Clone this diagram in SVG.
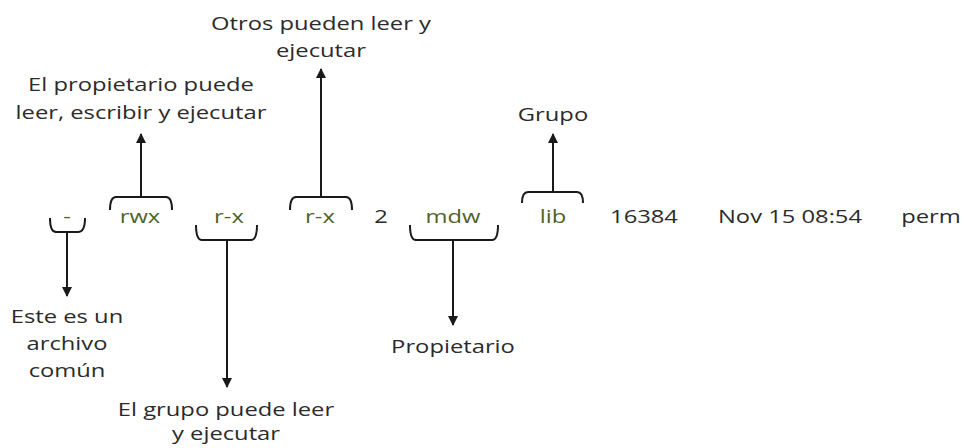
<svg xmlns="http://www.w3.org/2000/svg" width="965" height="448" viewBox="0 0 965 448">
  <style>
    text { font-family: "Open Sans", "Lato", sans-serif; font-size: 19px; fill: #2b2b2b; text-anchor: middle; }
    .perm { fill: #4f6228; }
    .brace { fill: none; stroke: #1a1a1a; stroke-width: 2; stroke-linejoin: round; }
    .arrow { fill: none; stroke: #1a1a1a; stroke-width: 2; marker-end: url(#head); }
  </style>
  <defs>
    <marker id="head" viewBox="0 0 10 10" refX="9" refY="5" markerWidth="5" markerHeight="5" orient="auto" markerUnits="strokeWidth">
      <path d="M0,0 L10,5 L0,10 z" fill="#1a1a1a"/>
    </marker>
  </defs>

  <rect width="965" height="448" fill="#ffffff"/>

  <!-- fields of the listing line; each label is widened 1.25x around its centre -->
  <g id="type" transform="translate(67 0) scale(1.25 1)"><text class="perm" x="0" y="223">-</text></g>
  <g id="owner-perm" transform="translate(140 0) scale(1.25 1)"><text class="perm" x="0" y="223">rwx</text></g>
  <g id="group-perm" transform="translate(229 0) scale(1.25 1)"><text class="perm" x="0" y="223">r-x</text></g>
  <g id="other-perm" transform="translate(320 0) scale(1.25 1)"><text class="perm" x="0" y="223">r-x</text></g>
  <g id="links" transform="translate(381 0) scale(1.25 1)"><text x="0" y="223">2</text></g>
  <g id="owner" transform="translate(453 0) scale(1.25 1)"><text class="perm" x="0" y="223">mdw</text></g>
  <g id="group" transform="translate(553 0) scale(1.25 1)"><text class="perm" x="0" y="223">lib</text></g>
  <g id="size" transform="translate(644 0) scale(1.25 1)"><text x="0" y="223">16384</text></g>
  <g id="date" transform="translate(790 0) scale(1.25 1)"><text x="0" y="223">Nov 15 08:54</text></g>
  <g id="name" transform="translate(931 0) scale(1.25 1)"><text x="0" y="223">perm</text></g>

  <!-- explanations -->
  <g id="note-type" transform="translate(67 0) scale(1.25 1)"><text x="0" y="323">Este es un</text><text x="0" y="350">archivo</text><text x="0" y="377">común</text></g>
  <g id="note-owner-perm" transform="translate(141 0) scale(1.25 1)"><text x="0" y="91">El propietario puede</text><text x="0" y="119">leer, escribir y ejecutar</text></g>
  <g id="note-group-perm" transform="translate(226 0) scale(1.25 1)"><text x="0" y="416">El grupo puede leer</text><text x="0" y="440">y ejecutar</text></g>
  <g id="note-other-perm" transform="translate(321 0) scale(1.25 1)"><text x="0" y="30">Otros pueden leer y</text><text x="0" y="57">ejecutar</text></g>
  <g id="note-owner" transform="translate(453 0) scale(1.25 1)"><text x="0" y="353">Propietario</text></g>
  <g id="note-group" transform="translate(553 0) scale(1.25 1)"><text x="0" y="121">Grupo</text></g>

  <!-- braces and arrows -->
  <g id="connectors">
    <path class="brace" d="M50,218 Q50,232 56,232 L78,232 Q85,232 85,218"/>
    <path class="arrow" d="M67,232 V296"/>

    <path class="brace" d="M110,210 Q110,197 116,197 L166,197 Q172,197 172,210"/>
    <path class="arrow" d="M141,197 V134"/>

    <path class="brace" d="M196,225 Q196,240 202,240 L251,240 Q257,240 257,225"/>
    <path class="arrow" d="M227,240 V387"/>

    <path class="brace" d="M290,210 Q290,197 296,197 L346,197 Q352,197 352,210"/>
    <path class="arrow" d="M321,197 V69"/>

    <path class="brace" d="M410,225 Q410,240 416,240 L492,240 Q498,240 498,225"/>
    <path class="arrow" d="M453,240 V325"/>

    <path class="brace" d="M522,203 Q522,192 528,192 L577,192 Q583,192 583,203"/>
    <path class="arrow" d="M553,192 V134"/>
  </g>
</svg>
